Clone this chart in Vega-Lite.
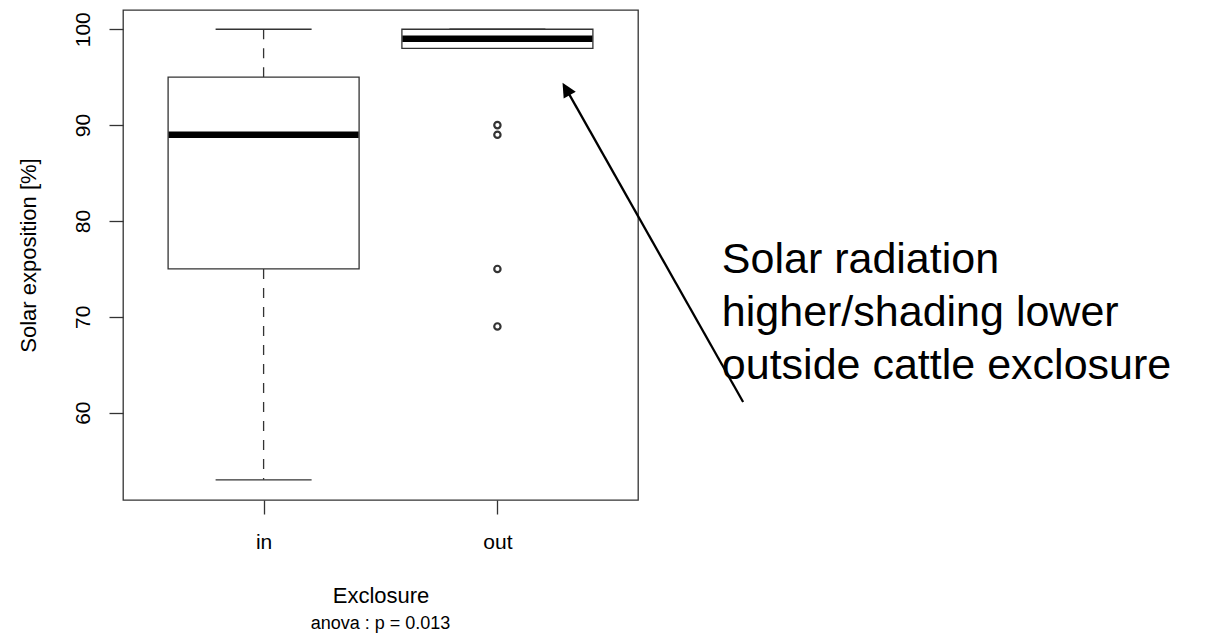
{
  "$schema": "https://vega.github.io/schema/vega-lite/v6.json",
  "width": 515,
  "height": 490,
  "autosize": {"type": "none"},
  "padding": {"left": 123, "top": 10, "right": 574, "bottom": 142},
  "background": "white",
  "title": {
    "text": "anova : p = 0.013",
    "orient": "bottom",
    "frame": "group",
    "anchor": "middle",
    "offset": 23,
    "baseline": "alphabetic",
    "font": "Liberation Sans",
    "fontSize": 18,
    "fontWeight": "normal",
    "color": "#000000"
  },
  "config": {
    "view": {"stroke": "#333333", "strokeWidth": 1.3},
    "axis": {
      "domain": false,
      "grid": false,
      "tickSize": 14,
      "tickColor": "#333333",
      "tickWidth": 1.3,
      "labelFont": "Liberation Sans",
      "labelFontSize": 21,
      "labelColor": "#000000",
      "titleFont": "Liberation Sans",
      "titleFontSize": 22,
      "titleFontWeight": "normal",
      "titleColor": "#000000"
    }
  },
  "datasets": {
    "boxes": [
      {"group": "in", "pos": 1, "lower": 53, "q1": 75, "median": 89, "q3": 95, "upper": 100},
      {"group": "out", "pos": 2, "lower": 98, "q1": 98, "median": 99, "q3": 100, "upper": 100}
    ],
    "outliers": [
      {"group": "out", "pos": 2, "value": 90},
      {"group": "out", "pos": 2, "value": 89},
      {"group": "out", "pos": 2, "value": 75},
      {"group": "out", "pos": 2, "value": 69}
    ],
    "arrow": [
      {"x": 3.051, "y": 61.11, "x2": 2.294, "y2": 93.78}
    ],
    "arrowhead": [
      {"x": 2.294, "y": 93.78}
    ],
    "note": [
      {"x": 2.96, "y": 74.54, "label": ["Solar radiation", "higher/shading lower", "outside cattle exclosure"]}
    ]
  },
  "layer": [
    {
      "data": {"name": "boxes"},
      "mark": {"type": "rule", "color": "#333333", "strokeWidth": 1.3, "strokeDash": [10, 9]},
      "encoding": {
        "x": {
          "field": "pos", "type": "quantitative",
          "scale": {"domain": [0.42, 2.58], "nice": false, "zero": false},
          "axis": {
            "values": [1, 2],
            "labelExpr": "datum.value == 1 ? 'in' : (datum.value == 2 ? 'out' : '')",
            "labelBaseline": "alphabetic",
            "labelPadding": 34,
            "title": "Exclosure",
            "titleX": 257.5,
            "titleY": 102,
            "titleBaseline": "alphabetic",
            "titleAlign": "center"
          }
        },
        "y": {
          "field": "q3", "type": "quantitative",
          "scale": {"domain": [50.89, 102.01], "nice": false, "zero": false},
          "axis": {
            "values": [60, 70, 80, 90, 100],
            "labelAngle": -90,
            "labelAlign": "center",
            "labelBaseline": "alphabetic",
            "labelPadding": 20,
            "title": "Solar exposition [%]",
            "titleAngle": -90,
            "titleX": -87.5,
            "titleY": 245,
            "titleBaseline": "alphabetic",
            "titleAlign": "center"
          }
        },
        "y2": {"field": "upper"}
      }
    },
    {
      "data": {"name": "boxes"},
      "mark": {"type": "rule", "color": "#333333", "strokeWidth": 1.3, "strokeDash": [10, 9]},
      "encoding": {
        "x": {"field": "pos", "type": "quantitative", "scale": {"domain": [0.42, 2.58], "nice": false, "zero": false}},
        "y": {"field": "q1", "type": "quantitative", "scale": {"domain": [50.89, 102.01], "nice": false, "zero": false}},
        "y2": {"field": "lower"}
      }
    },
    {
      "data": {"name": "boxes"},
      "mark": {"type": "tick", "orient": "horizontal", "size": 96, "thickness": 1.3, "color": "#333333", "opacity": 1},
      "encoding": {
        "x": {"field": "pos", "type": "quantitative", "scale": {"domain": [0.42, 2.58], "nice": false, "zero": false}},
        "y": {"field": "upper", "type": "quantitative", "scale": {"domain": [50.89, 102.01], "nice": false, "zero": false}}
      }
    },
    {
      "data": {"name": "boxes"},
      "mark": {"type": "tick", "orient": "horizontal", "size": 96, "thickness": 1.3, "color": "#333333", "opacity": 1},
      "encoding": {
        "x": {"field": "pos", "type": "quantitative", "scale": {"domain": [0.42, 2.58], "nice": false, "zero": false}},
        "y": {"field": "lower", "type": "quantitative", "scale": {"domain": [50.89, 102.01], "nice": false, "zero": false}}
      }
    },
    {
      "data": {"name": "boxes"},
      "mark": {"type": "bar", "size": 191, "fill": "#ffffff", "stroke": "#333333", "strokeWidth": 1.3, "opacity": 1},
      "encoding": {
        "x": {"field": "pos", "type": "quantitative", "scale": {"domain": [0.42, 2.58], "nice": false, "zero": false}},
        "y": {"field": "q1", "type": "quantitative", "scale": {"domain": [50.89, 102.01], "nice": false, "zero": false}},
        "y2": {"field": "q3"}
      }
    },
    {
      "data": {"name": "boxes"},
      "mark": {"type": "tick", "orient": "horizontal", "size": 190, "thickness": 6.5, "color": "#000000", "opacity": 1},
      "encoding": {
        "x": {"field": "pos", "type": "quantitative", "scale": {"domain": [0.42, 2.58], "nice": false, "zero": false}},
        "y": {"field": "median", "type": "quantitative", "scale": {"domain": [50.89, 102.01], "nice": false, "zero": false}}
      }
    },
    {
      "data": {"name": "outliers"},
      "mark": {"type": "point", "shape": "circle", "size": 40, "strokeWidth": 2.2, "color": "#333333", "filled": false, "opacity": 1},
      "encoding": {
        "x": {"field": "pos", "type": "quantitative", "scale": {"domain": [0.42, 2.58], "nice": false, "zero": false}},
        "y": {"field": "value", "type": "quantitative", "scale": {"domain": [50.89, 102.01], "nice": false, "zero": false}}
      }
    },
    {
      "data": {"name": "arrow"},
      "mark": {"type": "rule", "color": "#000000", "strokeWidth": 2.3},
      "encoding": {
        "x": {"field": "x", "type": "quantitative", "scale": {"domain": [0.42, 2.58], "nice": false, "zero": false}},
        "y": {"field": "y", "type": "quantitative", "scale": {"domain": [50.89, 102.01], "nice": false, "zero": false}},
        "x2": {"field": "x2"},
        "y2": {"field": "y2"}
      }
    },
    {
      "data": {"name": "arrowhead"},
      "mark": {"type": "point", "shape": "M0,-1L-0.97,1L0.97,1Z", "size": 207, "angle": 330, "filled": true, "color": "#000000", "strokeWidth": 0, "opacity": 1},
      "encoding": {
        "x": {"field": "x", "type": "quantitative", "scale": {"domain": [0.42, 2.58], "nice": false, "zero": false}},
        "y": {"field": "y", "type": "quantitative", "scale": {"domain": [50.89, 102.01], "nice": false, "zero": false}}
      }
    },
    {
      "data": {"name": "note"},
      "mark": {"type": "text", "align": "left", "baseline": "alphabetic", "font": "Liberation Sans", "fontSize": 43, "lineHeight": 53, "color": "#000000"},
      "encoding": {
        "x": {"field": "x", "type": "quantitative", "scale": {"domain": [0.42, 2.58], "nice": false, "zero": false}},
        "y": {"field": "y", "type": "quantitative", "scale": {"domain": [50.89, 102.01], "nice": false, "zero": false}},
        "text": {"field": "label"}
      }
    }
  ]
}
